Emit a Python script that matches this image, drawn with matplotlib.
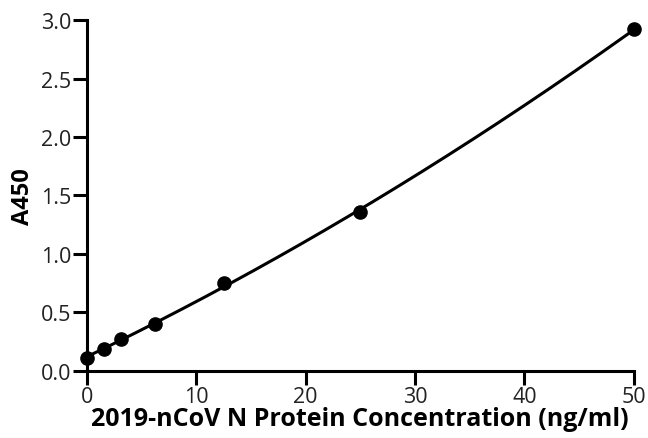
import numpy as np
import matplotlib
matplotlib.use("Agg")
import matplotlib.pyplot as plt

plt.rcParams['font.family'] = ['Open Sans', 'DejaVu Sans']

concentration = [0, 1.5625, 3.125, 6.25, 12.5, 25, 50]
a450 = [0.11, 0.19, 0.27, 0.40, 0.75, 1.36, 2.92]
xticks = [0, 10, 20, 30, 40, 50]
yticks = [0.0, 0.5, 1.0, 1.5, 2.0, 2.5, 3.0]
xlabel = "2019-nCoV N Protein Concentration (ng/ml)"
ylabel = "A450"

fig = plt.figure(figsize=(6.48, 4.39), dpi=100)
ax = fig.add_axes([0.134, 0.153, 0.844, 0.799])

# fitted curve (quadratic least-squares through the data)
coef = np.polyfit(concentration, a450, 2)
xf = np.linspace(min(concentration), max(concentration), 300)
ax.plot(xf, np.polyval(coef, xf), color='black', lw=2.2, clip_on=False, zorder=2)
ax.plot(concentration, a450, 'o', color='black', ms=9.5, clip_on=False, zorder=3)

ax.set_xlim(0, 50)
ax.set_ylim(0, 3.0)
ax.set_xticks(xticks)
ax.set_yticks(yticks)
ax.set_xticklabels([str(t) for t in xticks])
ax.set_yticklabels([f"{t:.1f}" for t in yticks])
for s in ['top', 'right']:
    ax.spines[s].set_visible(False)
for s in ['left', 'bottom']:
    ax.spines[s].set_linewidth(2.2)
ax.tick_params(width=2.2, length=10, labelsize=15.5, pad=1, colors='#222222')
ax.tick_params(color='black')
ax.set_xlabel(xlabel, fontsize=18, fontweight='bold', labelpad=-1)
ax.set_ylabel(ylabel, fontsize=17, fontweight='bold', labelpad=4)

fig.savefig("out.png", dpi=100)
